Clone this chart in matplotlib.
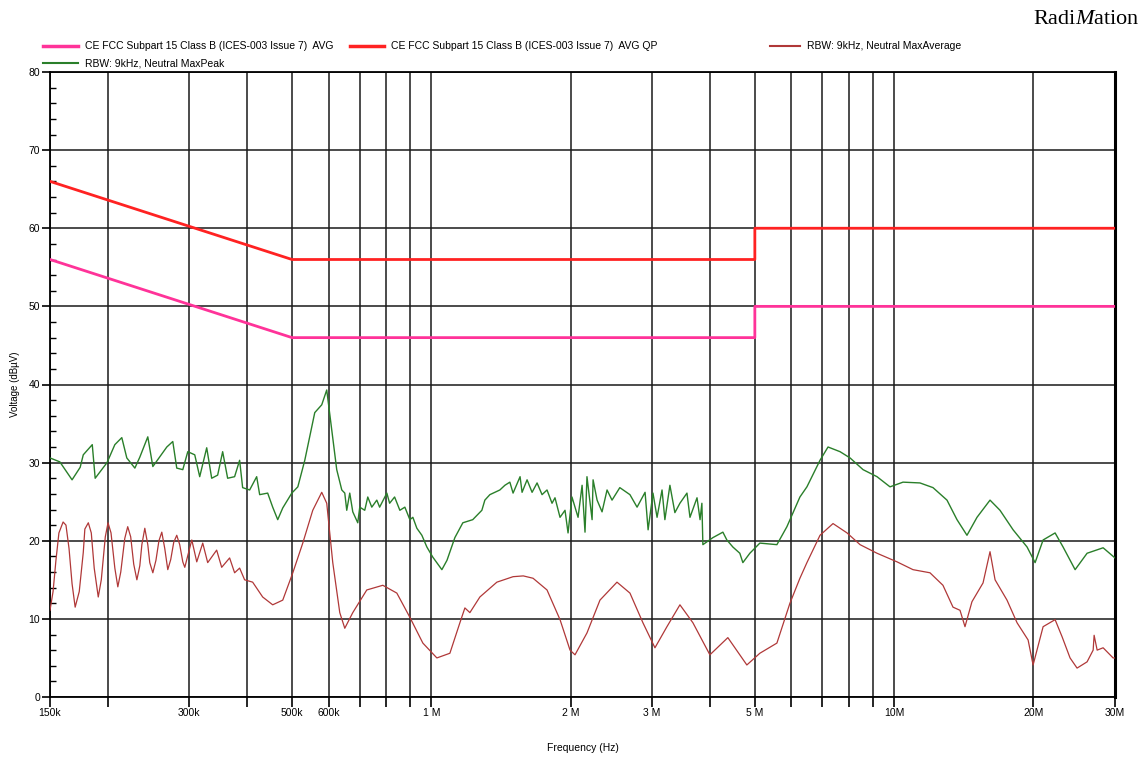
import numpy as np
import matplotlib
matplotlib.use('Agg')
import matplotlib.pyplot as plt
from matplotlib.lines import Line2D
from matplotlib.ticker import FixedLocator, FixedFormatter, NullFormatter

plt.rcParams['font.family'] = ['Liberation Sans', 'DejaVu Sans']
plt.rcParams['mathtext.fontset'] = 'custom'
plt.rcParams['mathtext.rm'] = 'Liberation Serif'
plt.rcParams['mathtext.it'] = 'Liberation Serif:italic'

# limit lines (MHz, dBuV)
lim_f = [0.15, 0.5, 5.0, 5.0, 30.0]
qp_v = [66, 56, 56, 60, 60]
avg_v = [56, 46, 46, 50, 50]

# MaxPeak trace (MHz, dBuV)
peak_f = [0.150, 0.1575, 0.1674, 0.1743, 0.1770, 0.1851, 0.1878, 0.1992, 0.2071, 0.2144,
          0.2198, 0.2288, 0.2345, 0.2440, 0.2502, 0.2682, 0.2763, 0.2818, 0.2904, 0.2977,
          0.3082, 0.3159, 0.3271, 0.3353, 0.3454, 0.3541, 0.3630, 0.3758, 0.3853, 0.3911,
          0.4050, 0.4194, 0.4257, 0.4430, 0.4542, 0.4657, 0.4775, 0.4995, 0.5147, 0.5328,
          0.5599, 0.5797, 0.5943, 0.6246, 0.6405, 0.6501, 0.6565, 0.6664, 0.6765, 0.6935,
          0.7004, 0.7180, 0.7289, 0.7436, 0.7624, 0.7732, 0.8014, 0.8126, 0.8330, 0.8550,
          0.8766, 0.8987, 0.9122, 0.9305, 0.9540, 0.9780, 1.0074, 1.0538, 1.081, 1.1242,
          1.1697, 1.2288, 1.2858, 1.3051, 1.3380, 1.3718, 1.4063, 1.4418, 1.4779, 1.5017,
          1.5550, 1.5705, 1.6101, 1.6507, 1.6922, 1.7347, 1.7780, 1.8229, 1.8500, 1.8969,
          1.9446, 1.9741, 2.013,
          2.075, 2.117, 2.148, 2.169, 2.225, 2.236, 2.281, 2.338, 2.397, 2.457,
          2.554, 2.686, 2.783, 2.896, 2.940, 3.012, 3.074, 3.151, 3.196, 3.277,
          3.359, 3.444, 3.567, 3.621, 3.750, 3.807, 3.842, 3.861, 4.058, 4.265,
          4.350, 4.482, 4.640, 4.7107, 4.8774, 5.1262, 5.5799, 5.8648, 6.2568, 6.4786,
          6.9148, 7.1962, 7.6397, 8.0295, 8.5664, 9.1816, 9.7950, 10.449, 11.370, 12.131,
          13.005, 13.669, 14.365, 15.10, 16.11, 16.93, 18.07, 19.37, 20.16, 20.98,
          22.27, 23.17, 24.60, 26.11, 28.28, 30.0]
peak_v = [30.6, 30.1, 27.8, 29.4, 31.0, 32.3, 28.0, 30.0, 32.3, 33.2,
          30.6, 29.3, 30.7, 33.3, 29.5, 32.0, 32.7, 29.3, 29.1, 31.4,
          31.0, 28.2, 31.9, 28.0, 28.4, 31.4, 28.0, 28.2, 30.3, 26.8,
          26.5, 28.2, 25.9, 26.1, 24.3, 22.7, 24.2, 26.1, 26.9, 30.3,
          36.4, 37.4, 39.3, 29.1, 26.5, 26.1, 23.9, 26.1, 23.7, 22.3,
          24.3, 23.9, 25.6, 24.3, 25.2, 24.3, 26.1, 24.8, 25.6, 23.9,
          24.3, 22.7, 23.0, 21.6, 20.7, 19.2, 17.9, 16.3, 17.5, 20.4,
          22.3, 22.7, 23.9, 25.2, 25.9, 26.2, 26.5, 27.1, 27.5, 26.1,
          28.2, 26.2, 27.8, 26.2, 27.4, 25.9, 26.5, 24.8, 25.5, 23.0,
          23.9, 21.0, 25.6,
          23.0, 27.1, 21.1, 28.2, 22.7, 27.8, 25.2, 23.7, 26.5, 25.2,
          26.8, 25.9, 24.3, 26.2, 21.4, 26.1, 23.0, 26.5, 22.7, 27.1,
          23.6, 24.8, 26.1, 23.0, 25.5, 22.7, 24.8, 19.5, 20.4, 21.1,
          20.1, 19.2, 18.4, 17.2, 18.4, 19.7, 19.5, 21.8, 25.6, 26.9,
          30.3, 32.0, 31.4, 30.6, 29.1, 28.2, 26.9, 27.5, 27.4, 26.8,
          25.2, 22.7, 20.7, 23.0, 25.2, 23.9, 21.4, 19.2, 17.2, 20.1,
          21.0, 19.2, 16.3, 18.4, 19.1, 17.8]

# MaxAverage trace (MHz, dBuV)
avg_f = [0.150, 0.1523, 0.1545, 0.1568, 0.1601, 0.1624, 0.1649, 0.1674, 0.1700, 0.1735,
         0.1770, 0.1784, 0.1815, 0.1842, 0.1869, 0.1907, 0.1936, 0.1975, 0.2002, 0.2032,
         0.2071, 0.2102, 0.2133, 0.2176, 0.2208, 0.2241, 0.2275, 0.2311, 0.2345, 0.2369,
         0.2404, 0.2440, 0.2464, 0.2502, 0.2541, 0.2579, 0.2616, 0.2655, 0.2695, 0.2735,
         0.2776, 0.2818, 0.2860, 0.2904, 0.2933,
         0.3037, 0.3113, 0.3207, 0.3287, 0.3437, 0.3524, 0.3666, 0.3758, 0.3853, 0.3950,
         0.4111, 0.4321, 0.4542, 0.4775, 0.5020, 0.5275, 0.5544, 0.5797, 0.5943, 0.6124,
         0.6341, 0.6501, 0.6765, 0.7253, 0.7855, 0.8423, 0.8987, 0.9587, 1.0279, 1.0967,
         1.1526, 1.1817, 1.2114, 1.2731, 1.3855, 1.5017, 1.5800, 1.6587, 1.7780, 1.8969,
         1.9937, 2.0437, 2.169, 2.3139, 2.5183, 2.6862, 2.8654, 3.0418, 3.2288, 3.4444,
         3.6744, 3.9980, 4.3716, 4.8050, 5.1262, 5.5799, 5.9532, 6.2568, 6.4786, 6.9148,
         7.3773, 7.9103, 8.4392, 9.1816, 10.143, 10.981, 11.950, 12.747, 13.400, 13.875,
         14.224, 14.726, 15.56, 16.11, 16.52, 17.53, 18.43, 19.47, 19.96, 20.98,
         22.27, 23.06, 23.99, 24.84, 26.11, 26.91, 27.04, 27.45, 28.28, 29.72,
         30.0]
avg_v2 = [11.1, 13.5, 17.5, 21.0, 22.4, 22.0, 19.0, 14.5, 11.5, 13.5,
          18.5, 21.5, 22.3, 21.0, 16.5, 12.8, 15.0, 20.5, 22.3, 21.0,
          16.5, 14.1, 16.0, 20.3, 21.8, 20.5, 17.0, 15.0, 16.8, 19.5,
          21.6, 19.5, 17.2, 15.9, 17.5, 20.0, 21.1, 19.0, 16.3, 17.6,
          19.8, 20.7, 19.5, 17.3, 16.6,
          20.1, 17.3, 19.7, 17.2, 18.8, 16.6, 17.8, 15.9, 16.5, 15.0,
          14.7, 12.8, 11.8, 12.4, 15.9, 19.7, 23.9, 26.2, 24.8, 17.2,
          10.8, 8.8, 10.8, 13.7, 14.3, 13.3, 10.2, 6.9, 5.0, 5.6,
          9.5, 11.4, 10.8, 12.8, 14.7, 15.4, 15.5, 15.2, 13.7, 9.9,
          6.0, 5.4, 8.2, 12.4, 14.7, 13.3, 9.5, 6.3, 9.0, 11.8,
          9.5, 5.4, 7.6, 4.1, 5.6, 6.9, 12.0, 15.2, 17.2, 20.7,
          22.2, 21.0, 19.5, 18.4, 17.3, 16.3, 15.9, 14.3, 11.5, 11.1,
          9.0, 12.2, 14.6, 18.6, 15.0, 12.4, 9.5, 7.3, 4.1, 9.0,
          9.9, 7.7, 5.0, 3.7, 4.5, 6.0, 7.9, 6.0, 6.3, 5.0,
          5.0]

grid_f = [0.15, 0.2, 0.3, 0.4, 0.5, 0.6, 0.7, 0.8, 0.9, 1, 2, 3, 4, 5, 6, 7, 8, 9, 10, 20, 30]
grid_lbl = ['150k', '', '300k', '', '500k', '600k', '', '', '', '1 M', '2 M', '3 M', '',
            '5 M', '', '', '', '', '10M', '20M', '30M']

c_avg = '#ff3399'
c_qp = '#ff2222'
c_mavg = '#b03838'
c_mpk = '#2a7f2a'

fig = plt.figure(figsize=(11.45, 7.58), dpi=100)
ax = fig.add_axes([50 / 1145, 1 - 697 / 758, 1065 / 1145, 625 / 758])

hz = 1e6
ax.plot(np.array(lim_f) * hz, avg_v, color=c_avg, lw=2.0, zorder=4)
ax.plot(np.array(lim_f) * hz, qp_v, color=c_qp, lw=2.0, zorder=4)
ax.plot(np.array(avg_f) * hz, avg_v2, color=c_mavg, lw=0.9, zorder=3)
ax.plot(np.array(peak_f) * hz, peak_v, color=c_mpk, lw=1.0, zorder=3)

ax.set_xscale('log')
ax.set_xlim(0.15 * hz, 30 * hz)
ax.set_ylim(0, 80)

ax.xaxis.set_major_locator(FixedLocator([g * hz for g in grid_f]))
ax.xaxis.set_major_formatter(FixedFormatter(grid_lbl))
ax.xaxis.set_minor_locator(FixedLocator([]))
ax.xaxis.set_minor_formatter(NullFormatter())
ax.set_yticks(np.arange(0, 81, 10))
ax.set_yticks(np.arange(0, 81, 2), minor=True)

ax.tick_params(axis='x', which='major', direction='out', length=7, width=1.2, pad=1,
               labelsize=7.5)
ax.tick_params(axis='y', which='major', direction='out', length=6, width=1.2, pad=1,
               labelsize=7.5)
ax.tick_params(axis='y', which='minor', direction='in', length=4, width=1.0)

ax.grid(True, which='major', color='#1a1a1a', lw=1.1)
ax.set_axisbelow(True)
for s in ['left', 'bottom', 'top']:
    ax.spines[s].set_linewidth(1.3)
ax.spines['right'].set_linewidth(2.2)

ax.set_xlabel('Frequency (Hz)', fontsize=7.5, labelpad=18)
ax.set_ylabel('Voltage (dBµV)', fontsize=7, labelpad=6)

# legend, drawn by hand
def leg(x0, x1, y, col, lw, label):
    fig.add_artist(Line2D([x0 / 1145, x1 / 1145], [1 - y / 758, 1 - y / 758],
                          color=col, lw=lw, transform=fig.transFigure))
    fig.text((x1 + 7) / 1145, 1 - y / 758, label, fontsize=7.5, va='center', ha='left')

leg(43, 78, 46, c_avg, 2.5, 'CE FCC Subpart 15 Class B (ICES-003 Issue 7)  AVG')
leg(350, 384, 46, c_qp, 2.5, 'CE FCC Subpart 15 Class B (ICES-003 Issue 7)  AVG QP')
leg(770, 800, 46, c_mavg, 1.5, 'RBW: 9kHz, Neutral MaxAverage')
leg(43, 78, 63, c_mpk, 1.5, 'RBW: 9kHz, Neutral MaxPeak')

fig.text(1140 / 1145, 1 - 19 / 758, r'Radi$\mathit{M}$ation', fontsize=16,
         family='Liberation Serif', ha='right', va='center')

fig.savefig('out.png', dpi=100)
